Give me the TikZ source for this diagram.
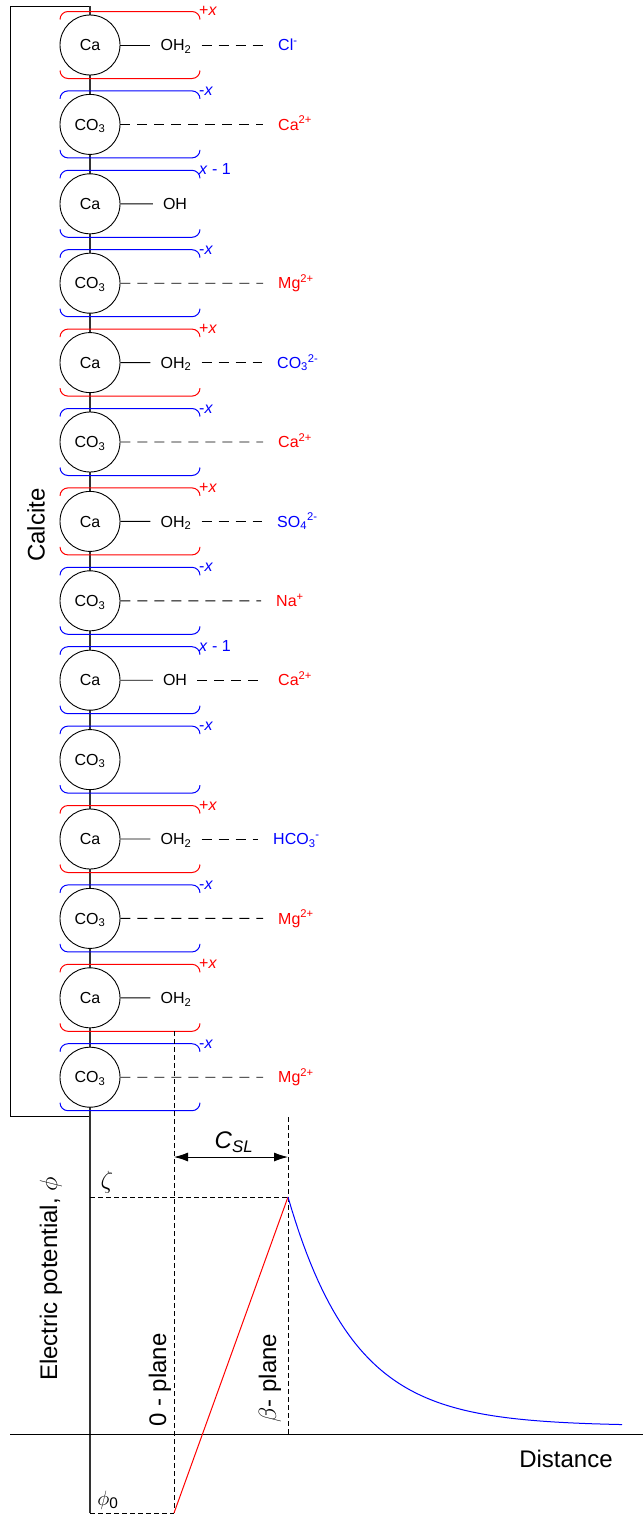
\documentclass[tikz,border=0pt]{standalone}
\usepackage{fontspec}
\setmainfont{Liberation Sans}
\usetikzlibrary{arrows.meta}
\definecolor{cred}{RGB}{255,0,0}
\definecolor{cblue}{RGB}{0,0,255}
\begin{document}
\begin{tikzpicture}[x=1pt,y=-1pt,
  font=\fontsize{16}{19}\selectfont,
  atom/.style={circle,draw,fill=white,minimum size=60pt,inner sep=0pt,line width=0.9pt,text height=11.5pt,text depth=0pt},
  bond/.style={line width=0.9pt},
  hbond/.style={line width=0.9pt,dash pattern=on 10pt off 7pt},
  lig/.style={inner xsep=10pt,inner ysep=0pt,text height=11.5pt,text depth=0pt},
  ion/.style={anchor=west,inner xsep=15pt,inner ysep=0pt,text height=11.5pt,text depth=0pt},
  bracket/.style={line width=1pt,rounded corners=8pt},
  chg/.style={anchor=base west,inner sep=0pt},
  guide/.style={line width=0.8pt,dash pattern=on 5pt off 3pt},
  frame/.style={line width=0.9pt},
  spine/.style={line width=1.3pt,black!80},
  big/.style={font=\fontsize{24}{28}\selectfont},
  dimtip/.tip={Latex[length=14pt,width=9pt]}]
\useasboundingbox (0,0) rectangle (643,1515);
% frame and spine
\coordinate (topL) at (10,6);
\coordinate (topR) at (90,6);
\coordinate (botL) at (10,1116.5);
\coordinate (botR) at (90,1116.5);
\coordinate (axB) at (90,1513);
\draw[frame] (topR) -- (topL) -- (botL) -- (botR);
\draw[spine] (topR) -- (axB);
\node[rotate=90,big] (calcite) at (36,525) {Calcite};
% atoms and brackets
\foreach \i/\nm/\bc/\lab in {
  0/Ca/cred/{+\textit{x}},
  1/{CO\textsubscript{3}}/cblue/{-\textit{x}},
  2/Ca/cblue/{\textit{x} - 1},
  3/{CO\textsubscript{3}}/cblue/{-\textit{x}},
  4/Ca/cred/{+\textit{x}},
  5/{CO\textsubscript{3}}/cblue/{-\textit{x}},
  6/Ca/cred/{+\textit{x}},
  7/{CO\textsubscript{3}}/cblue/{-\textit{x}},
  8/Ca/cblue/{\textit{x} - 1},
  9/{CO\textsubscript{3}}/cblue/{-\textit{x}},
  10/Ca/cred/{+\textit{x}},
  11/{CO\textsubscript{3}}/cblue/{-\textit{x}},
  12/Ca/cred/{+\textit{x}},
  13/{CO\textsubscript{3}}/cblue/{-\textit{x}}} {
  \pgfmathsetmacro\yc{45+79.4*\i}
  \node[atom] (a\i) at (90,\yc) {\nm};
  \draw[bracket,\bc] (60,\yc-25.5) -- (60,\yc-33.5) -- (200,\yc-33.5) -- (200,\yc-25.5);
  \draw[bracket,\bc] (60,\yc+25.5) -- (60,\yc+33.5) -- (200,\yc+33.5) -- (200,\yc+25.5);
  \node[chg,text=\bc] (lb\i) at (199,\yc-29) {\lab};
}
% ligands and ions
\node[lig] (l0) at (176,45) {OH\textsubscript{2}};
\node[ion,text=cblue] (n0) at (263,45) {Cl\textsuperscript{-}};
\draw[bond] (a0) -- (l0); \draw[hbond] (l0) -- (n0);
\node[ion,text=cred] (n1) at (263,124.4) {Ca\textsuperscript{2+}};
\draw[hbond] (a1) -- (n1);
\node[lig] (l2) at (175,203.8) {OH};
\draw[bond] (a2) -- (l2);
\node[ion,text=cred] (n3) at (263,283.2) {Mg\textsuperscript{2+}};
\draw[hbond] (a3) -- (n3);
\node[lig] (l4) at (176,362.6) {OH\textsubscript{2}};
\node[ion,text=cblue] (n4) at (262,362.6) {CO\textsubscript{3}\textsuperscript{2-}};
\draw[bond] (a4) -- (l4); \draw[hbond] (l4) -- (n4);
\node[ion,text=cred] (n5) at (263,442) {Ca\textsuperscript{2+}};
\draw[hbond] (a5) -- (n5);
\node[lig] (l6) at (176,521.4) {OH\textsubscript{2}};
\node[ion,text=cblue] (n6) at (262,521.4) {SO\textsubscript{4}\textsuperscript{2-}};
\draw[bond] (a6) -- (l6); \draw[hbond] (l6) -- (n6);
\node[ion,text=cred] (n7) at (261,600.8) {Na\textsuperscript{+}};
\draw[hbond] (a7) -- (n7);
\node[lig] (l8) at (175,680.2) {OH};
\node[ion,text=cred] (n8) at (263,680.2) {Ca\textsuperscript{2+}};
\draw[bond] (a8) -- (l8); \draw[hbond] (l8) -- (n8);
\node[lig] (l10) at (176,839) {OH\textsubscript{2}};
\node[ion,text=cblue] (n10) at (258,839) {HCO\textsubscript{3}\textsuperscript{-}};
\draw[bond] (a10) -- (l10); \draw[hbond] (l10) -- (n10);
\node[ion,text=cred] (n11) at (263,918.4) {Mg\textsuperscript{2+}};
\draw[hbond] (a11) -- (n11);
\node[lig] (l12) at (176,997.8) {OH\textsubscript{2}};
\draw[bond] (a12) -- (l12);
\node[ion,text=cred] (n13) at (263,1077.2) {Mg\textsuperscript{2+}};
\draw[hbond] (a13) -- (n13);
% graph
\coordinate (xL) at (10,1434);
\coordinate (xR) at (643,1434);
\coordinate (p0top) at (174,1031.3);
\coordinate (p0bot) at (174,1513);
\coordinate (pbtop) at (288,1117);
\coordinate (pbbot) at (288,1434);
\coordinate (zL) at (90,1197);
\coordinate (zR) at (288,1197);
\coordinate (arL) at (174,1157);
\coordinate (arR) at (288,1157);
\draw[frame] (xL) -- (xR);
\draw[guide] (p0top) -- (p0bot);
\draw[guide] (pbtop) -- (pbbot);
\draw[guide] (zL) -- (zR);
\draw[guide] (axB) -- (p0bot);
\draw[frame,dimtip-dimtip] (arL) -- (arR);
\draw[line width=1pt,cred] (p0bot) -- (zR);
\draw[line width=1pt,cblue] (zR) plot[domain=288:622,samples=90] (\x,{1426-229*exp(-(\x-288)/66)});
\node[big] (csl) at (234,1142) {\textit{C}\textsubscript{\textit{SL}}};
\node[font=\fontsize{27}{30}\selectfont] (zeta) at (107,1182) {$\zeta$};
\node[font=\fontsize{22}{26}\selectfont] (phi0) at (108,1500) {$\phi$\textsubscript{0}};
\node[big,rotate=90] (epot) at (51,1279) {Electric potential, $\phi$};
\node[big,rotate=90] (zp) at (160,1380) {0 - plane};
\node[big,rotate=90] (bp) at (270,1378) {$\beta$- plane};
\node[big] (dist) at (566,1459) {Distance};
\end{tikzpicture}
\end{document}
